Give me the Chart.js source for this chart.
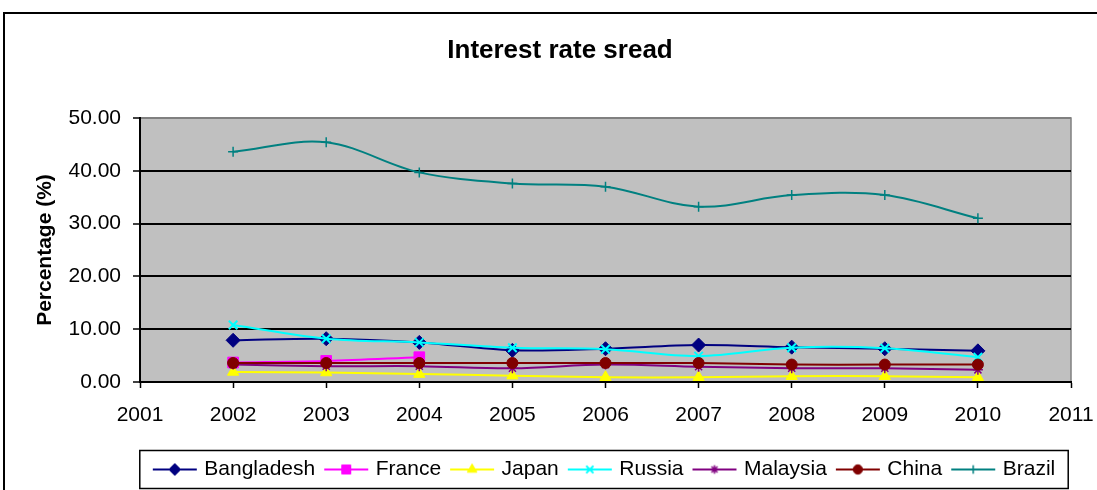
<!DOCTYPE html>
<html>
<head>
<meta charset="utf-8">
<script src="https://cdn.jsdelivr.net/npm/chart.js@4/dist/chart.umd.min.js"></script>
<style>
  html, body { margin: 0; padding: 0; background: #ffffff; }
  #wrap { position: relative; width: 1097px; height: 490px; }
</style>
</head>
<body>
<div id="wrap"><canvas id="chart"></canvas></div>
<script>
// Interest rate spread (%), 2002-2010
const years = [2002, 2003, 2004, 2005, 2006, 2007, 2008, 2009, 2010];
const bangladesh = [7.9, 8.2, 7.5, 6.0, 6.3, 7.0, 6.6, 6.3, 5.9];
const france     = [3.7, 4.0, 4.7, null, null, null, null, null, null];
const japan      = [1.9, 1.8, 1.5, 1.2, 0.9, 0.9, 1.1, 1.1, 0.9];
const russia     = [10.8, 8.2, 7.5, 6.5, 6.2, 4.9, 6.5, 6.4, 4.7];
const malaysia   = [3.3, 3.0, 3.0, 2.6, 3.3, 2.9, 2.6, 2.6, 2.3];
const china      = [3.6, 3.6, 3.6, 3.6, 3.6, 3.6, 3.3, 3.3, 3.3];
const brazil     = [43.6, 45.4, 39.7, 37.6, 37.0, 33.2, 35.4, 35.4, 31.0];

const seriesNames = ['Bangladesh', 'France', 'Japan', 'Russia', 'Malaysia', 'China', 'Brazil'];
const seriesValues = [bangladesh, france, japan, russia, malaysia, china, brazil];

const yearTicks = [2001, 2002, 2003, 2004, 2005, 2006, 2007, 2008, 2009, 2010, 2011];
const rateTicks = [0, 10, 20, 30, 40, 50];

const chartTitle = 'Interest rate sread';
const yAxisTitle = 'Percentage (%)';

// marker look per series
const seriesStyle = [
  { color: '#000080', marker: 'rectRot',  radius: 7,   width: 1 },
  { color: '#FF00FF', marker: 'rect',     radius: 7.5, width: 1 },
  { color: '#FFFF00', marker: 'triangle', radius: 6.5, width: 1 },
  { color: '#00FFFF', marker: 'crossRot', radius: 6,   width: 2 },
  { color: '#800080', marker: 'star',     radius: 5,   width: 1.5 },
  { color: '#800000', marker: 'circle',   radius: 5.5, width: 1 },
  { color: '#008080', marker: 'cross',    radius: 5,   width: 1.5 }
];

const FONT = '"Liberation Sans", Arial, Helvetica, sans-serif';

// small line-with-marker images used as legend symbols
function legendSwatch(st) {
  const c = document.createElement('canvas');
  c.width = 46; c.height = 18;
  const g = c.getContext('2d');
  g.strokeStyle = st.color;
  g.lineWidth = 2;
  g.beginPath(); g.moveTo(1, 9); g.lineTo(45, 9); g.stroke();
  g.fillStyle = st.color;
  g.lineWidth = st.width;
  if (Chart.helpers && Chart.helpers.drawPoint) {
    Chart.helpers.drawPoint(g, { pointStyle: st.marker, radius: st.radius * 0.85, rotation: 0, borderWidth: st.width }, 23, 9);
  } else {
    g.beginPath(); g.arc(23, 9, 4, 0, Math.PI * 2); g.fill();
  }
  return c;
}

const datasets = seriesNames.map((name, i) => {
  const st = seriesStyle[i];
  return {
    label: name,
    data: years.map((yr, k) => ({ x: yr, y: seriesValues[i][k] })),
    borderColor: st.color,
    backgroundColor: st.color,
    borderWidth: 2,
    tension: 0.35,
    pointStyle: st.marker,
    pointRadius: st.radius,
    pointHoverRadius: st.radius,
    pointBackgroundColor: st.color,
    pointBorderColor: st.color,
    pointBorderWidth: st.width,
    order: seriesNames.length - i
  };
});

// outer frame, chart title and grey plot background
const framePlugin = {
  id: 'frame',
  beforeDraw(chart) {
    const ctx = chart.ctx;
    const a = chart.chartArea;
    ctx.save();
    ctx.strokeStyle = '#000';
    ctx.lineWidth = 2;
    ctx.strokeRect(4, 13, 1200, 600);
    ctx.fillStyle = '#C0C0C0';
    ctx.fillRect(a.left, a.top, a.right - a.left, a.bottom - a.top);
    ctx.strokeStyle = '#808080';
    ctx.lineWidth = 1.5;
    ctx.beginPath();
    ctx.moveTo(a.left, a.top);
    ctx.lineTo(a.right, a.top);
    ctx.lineTo(a.right, a.bottom);
    ctx.stroke();
    ctx.fillStyle = '#000';
    ctx.font = 'bold 26px ' + FONT;
    ctx.textAlign = 'center';
    ctx.textBaseline = 'alphabetic';
    ctx.fillText(chartTitle, 560, 58);
    ctx.restore();
  }
};

// border around the legend row
const legendBoxPlugin = {
  id: 'legendBox',
  afterDraw(chart) {
    const boxes = chart.legend && chart.legend.legendHitBoxes;
    if (!boxes || !boxes.length) return;
    const first = boxes[0], last = boxes[boxes.length - 1];
    const cy = first.top + first.height / 2;
    const ctx = chart.ctx;
    const x0 = first.left - 16;
    const x1 = last.left + last.width + 13;
    ctx.save();
    ctx.strokeStyle = '#000';
    ctx.lineWidth = 1.5;
    ctx.strokeRect(x0, cy - 19, x1 - x0, 38);
    ctx.restore();
  }
};

new Chart(document.getElementById('chart'), {
  type: 'line',
  data: { datasets },
  plugins: [framePlugin, legendBoxPlugin],
  options: {
    responsive: true,
    maintainAspectRatio: false,
    animation: false,
    devicePixelRatio: 1,
    layout: { padding: { top: 118, right: 26, left: 0, bottom: 0 } },
    scales: {
      x: {
        type: 'linear',
        min: yearTicks[0],
        max: yearTicks[yearTicks.length - 1],
        afterBuildTicks: s => { s.ticks = yearTicks.map(v => ({ value: v })); },
        afterFit: s => { s.height = 65; s.paddingLeft = 0; s.paddingRight = 0; },
        ticks: {
          callback: v => String(v),
          font: { family: FONT, size: 21 },
          color: '#000',
          padding: 15,
          maxRotation: 0,
          autoSkip: false
        },
        grid: { drawOnChartArea: false, drawTicks: true, tickLength: 6, tickColor: '#000', tickWidth: 1.5 },
        border: { color: '#000', width: 2 }
      },
      y: {
        min: rateTicks[0],
        max: rateTicks[rateTicks.length - 1],
        afterBuildTicks: s => { s.ticks = rateTicks.map(v => ({ value: v })); },
        afterFit: s => { s.width = 140; },
        ticks: {
          callback: v => Number(v).toFixed(2),
          font: { family: FONT, size: 21 },
          color: '#000',
          padding: 12
        },
        grid: {
          color: c => (c.tick && c.tick.value === rateTicks[rateTicks.length - 1]) ? '#808080' : '#000',
          lineWidth: 2,
          tickColor: '#000',
          tickLength: 7,
          tickWidth: 1.5
        },
        border: { color: '#000', width: 2 },
        title: {
          display: true,
          text: yAxisTitle,
          color: '#000',
          font: { family: FONT, size: 21, weight: 'bold' },
          padding: { top: 33, bottom: 0 }
        }
      }
    },
    plugins: {
      title: { display: false },
      tooltip: { enabled: false },
      legend: {
        position: 'bottom',
        fullSize: false,
        labels: {
          usePointStyle: true,
          pointStyleWidth: 38,
          padding: 12,
          color: '#000',
          font: { family: FONT, size: 21 },
          generateLabels: chart => chart.data.datasets.map((ds, i) => ({
            text: ds.label,
            pointStyle: legendSwatch(seriesStyle[i]),
            fillStyle: ds.borderColor,
            strokeStyle: ds.borderColor,
            lineWidth: 0,
            hidden: false,
            fontColor: '#000',
            datasetIndex: i
          }))
        }
      }
    }
  }
});
</script>
</body>
</html>
